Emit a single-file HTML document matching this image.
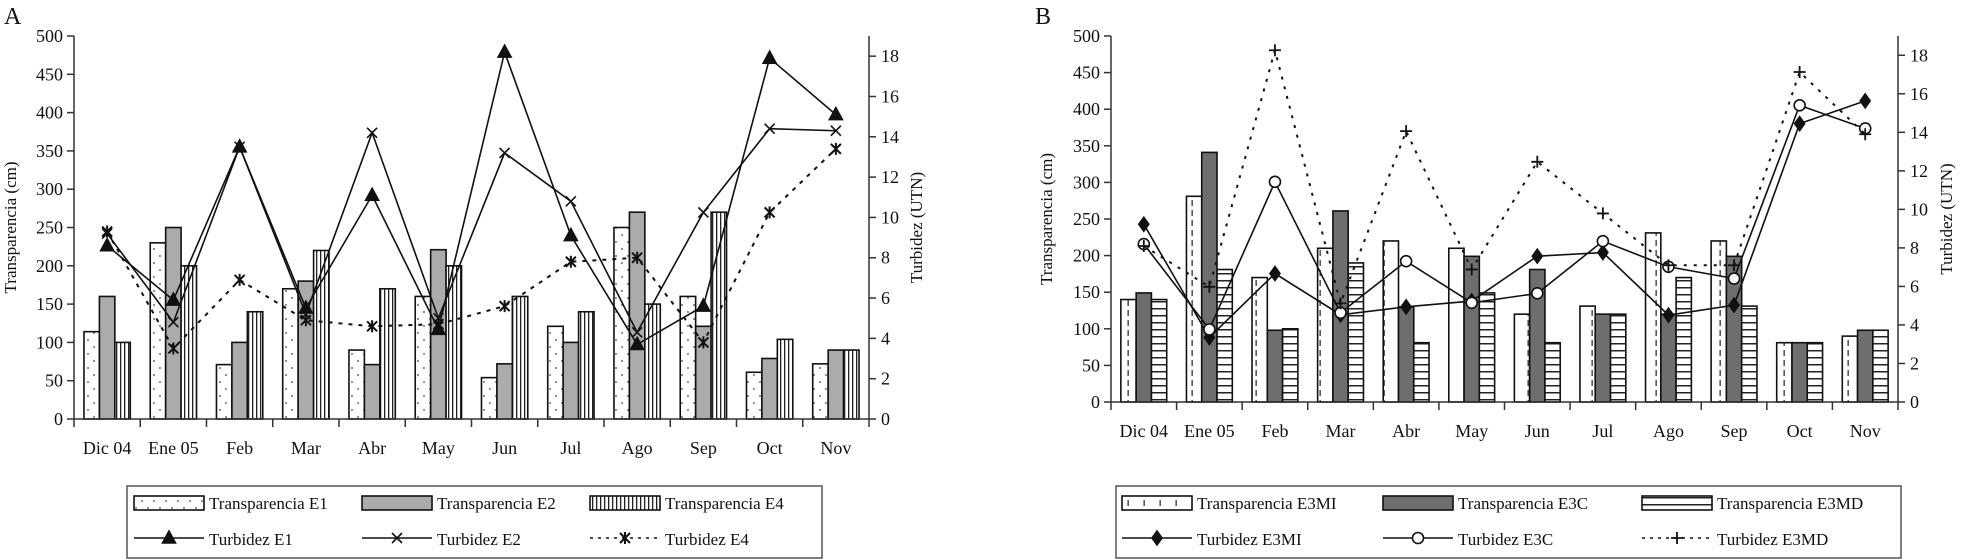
<!DOCTYPE html>
<html><head><meta charset="utf-8"><style>
html,body{margin:0;padding:0;background:#fff}
svg{display:block;font-family:"Liberation Serif",serif}
</style></head><body>
<svg id="chart" width="1968" height="559" viewBox="0 0 1968 559" xmlns="http://www.w3.org/2000/svg">
<defs>
<pattern id="pDots" width="12" height="14" patternUnits="userSpaceOnUse"><rect width="12" height="14" fill="#fff"/><circle cx="4" cy="4" r="0.9" fill="#444"/><circle cx="10" cy="11" r="0.9" fill="#444"/></pattern>
<pattern id="pVert" width="4" height="10" patternUnits="userSpaceOnUse"><rect width="4" height="10" fill="#fff"/><rect x="0" y="0" width="1.3" height="10" fill="#222"/></pattern>
<pattern id="pHor" width="10" height="7" patternUnits="userSpaceOnUse"><rect width="10" height="7" fill="#fff"/><rect x="0" y="0" width="10" height="1.5" fill="#222"/></pattern>
<pattern id="pDash" width="16" height="10" patternUnits="userSpaceOnUse"><rect width="16" height="10" fill="#fff"/><rect x="7.5" y="0" width="1.3" height="6" fill="#333"/></pattern>
</defs>
<g id="panelA"></g>
<g id="panelB"></g>
</svg>
<script>
const months = ["Dic 04","Ene 05","Feb","Mar","Abr","May","Jun","Jul","Ago","Sep","Oct","Nov"];
const leftTicks = [0,50,100,150,200,250,300,350,400,450,500];
const rightTicks = [0,2,4,6,8,10,12,14,16,18];
// Panel A
const transE1 = [114,230,71,170,90,160,54,121,250,160,61,72];
const transE2 = [160,250,100,180,71,221,72,100,270,121,79,90];
const transE4 = [100,200,140,220,170,200,160,140,150,270,104,90];
const turbE1 = [8.6,5.9,13.5,5.5,11.1,4.45,18.2,9.1,3.7,5.6,17.9,15.1];
const turbE2 = [9.2,4.8,13.5,5.2,14.2,5.0,13.2,10.8,4.3,10.25,14.4,14.3];
const turbE4 = [9.3,3.5,6.9,4.9,4.6,4.7,5.6,7.8,8.0,3.8,10.25,13.4];
// Panel B
const transE3MI = [140,281,170,210,220,210,120,131,231,220,81,90];
const transE3C = [149,341,98,261,130,199,181,120,120,199,81,98];
const transE3MD = [140,181,100,190,81,149,81,120,170,131,81,98];
const turbE3MI = [9.23,3.35,6.67,4.53,4.94,5.24,7.57,7.76,4.51,5.03,14.45,15.63];
const turbE3C = [8.2,3.77,11.43,4.63,7.31,5.15,5.64,8.35,7.02,6.41,15.4,14.2];
const turbE3MD = [8.1,5.98,18.26,5.12,14.06,6.88,12.47,9.79,7.1,7.1,17.13,13.9];

const NS="http://www.w3.org/2000/svg";
function mk(tag,attrs,parent){const e=document.createElementNS(NS,tag);for(const k in attrs)e.setAttribute(k,attrs[k]);parent.appendChild(e);return e;}

function drawPanel(g,cfg){
  const {x0,x1,y0,yTop,lmax,rmax}=cfg;
  const cw=(x1-x0)/months.length;
  const yL=v=>y0-(v/lmax)*(y0-yTop);
  const yR=v=>y0-(v/rmax)*(y0-yTop);
  const xc=i=>x0+cw*(i+0.5);
  // letter
  const lt=mk('text',{x:cfg.letterX,y:24,'font-size':24,fill:'#111'},g);lt.textContent=cfg.letter;
  
  
  // bars
  const bw=cw*0.233;
  cfg.bars.forEach((s,si)=>{
    const sg=mk('g',{},g);
    
    
    s.data.forEach((v,i)=>{
      const bx=xc(i)-1.5*bw+si*bw;
      const r=mk('rect',{x:bx,y:yL(v),width:bw,height:y0-yL(v),fill:s.fill,stroke:'#111','stroke-width':1.6},sg);
      
      
    });
  });
  // axes
  const ax=mk('g',{stroke:'#333','stroke-width':1.5,fill:'none'},g);
  
  
  mk('line',{x1:x0,y1:yTop,x2:x0,y2:y0},ax);
  mk('line',{x1:x1,y1:yTop,x2:x1,y2:y0},ax);
  mk('line',{x1:x0,y1:y0,x2:x1,y2:y0},ax);
  for(let i=0;i<=months.length;i++){mk('line',{x1:x0+cw*i,y1:y0,x2:x0+cw*i,y2:y0+8},ax);}
  leftTicks.forEach(t=>{
    mk('line',{x1:x0-7,y1:yL(t),x2:x0,y2:yL(t)},ax);
    const tx=mk('text',{x:x0-11,y:yL(t)+6,'font-size':18,'text-anchor':'end',fill:'#111',stroke:'none'},g);tx.textContent=t;
    
    
  });
  rightTicks.forEach(t=>{
    mk('line',{x1:x1,y1:yR(t),x2:x1+7,y2:yR(t)},ax);
    const tx=mk('text',{x:x1+12,y:yR(t)+6,'font-size':18,fill:'#111'},g);tx.textContent=t;
    
    
  });
  months.forEach((m,i)=>{
    const tx=mk('text',{x:xc(i),y:y0+35,'font-size':18,'text-anchor':'middle',fill:'#111'},g);tx.textContent=m;
    
    
  });
  const lty=(y0+yTop)/2;
  const t1=mk('text',{x:0,y:0,'font-size':17,'text-anchor':'middle',fill:'#111',transform:`translate(${cfg.ltitleX},${lty}) rotate(-90)`},g);t1.textContent='Transparencia (cm)';
  
  
  const t2=mk('text',{x:0,y:0,'font-size':17,'text-anchor':'middle',fill:'#111',transform:`translate(${cfg.rtitleX},${lty}) rotate(-90)`},g);t2.textContent='Turbidez (UTN)';
  
  
  // lines
  cfg.lines.forEach(s=>{
    const sg=mk('g',{},g);
    
    
    const pts=s.data.map((v,i)=>xc(i)+','+yR(v)).join(' ');
    const pl=mk('polyline',{points:pts,fill:'none',stroke:'#111','stroke-width':s.dash?2:1.6,'stroke-dasharray':s.dash||'none'},sg);
    
    
    s.data.forEach((v,i)=>{const m=marker(sg,s.marker,xc(i),yR(v));
      
      });
  });
  // legend
  const L=cfg.legend;
  const lg=mk('g',{},g);
  
  
  mk('rect',{x:L.x,y:486,width:L.w,height:72,fill:'#fff',stroke:'#555','stroke-width':1.5},lg);
  cfg.bars.forEach((s,i)=>{
    const sx=L.cols[i];
    const e=mk('g',{},lg);
    
    
    mk('rect',{x:sx,y:496,width:70,height:14,fill:s.fill,stroke:'#111','stroke-width':1.6},e);
    const tx=mk('text',{x:sx+75,y:509,'font-size':17,fill:'#111'},e);tx.textContent=s.label;
  });
  cfg.lines.forEach((s,i)=>{
    const sx=L.cols[i];
    const e=mk('g',{},lg);
    
    
    mk('line',{x1:sx,y1:538,x2:sx+70,y2:538,stroke:'#111','stroke-width':s.dash?1.6:1.6,'stroke-dasharray':s.dash?'3,5':'none'},e);
    marker(e,s.marker,sx+35,538);
    const tx=mk('text',{x:sx+75,y:545,'font-size':17,fill:'#111'},e);tx.textContent=s.label;
  });
}
function marker(p,type,x,y){
  const g=mk('g',{stroke:'#111','stroke-width':1.6,fill:'none'},p);
  if(type==='tri')mk('path',{d:`M${x},${y-7} L${x+6.5},${y+5} L${x-6.5},${y+5}Z`,fill:'#111'},g);
  else if(type==='x')mk('path',{d:`M${x-5},${y-5} L${x+5},${y+5} M${x-5},${y+5} L${x+5},${y-5}`},g);
  else if(type==='ast')mk('path',{d:`M${x-5},${y-5} L${x+5},${y+5} M${x-5},${y+5} L${x+5},${y-5} M${x},${y-6} L${x},${y+6}`,'stroke-width':2},g);
  else if(type==='dia')mk('path',{d:`M${x},${y-7} L${x+5},${y} L${x},${y+7} L${x-5},${y}Z`,fill:'#111'},g);
  else if(type==='circ')mk('circle',{cx:x,cy:y,r:5.5,fill:'#fff'},g);
  else if(type==='plus')mk('path',{d:`M${x-6},${y} L${x+6},${y} M${x},${y-6} L${x},${y+6}`,'stroke-width':1.8},g);
  return g;
}
drawPanel(document.getElementById('panelA'),{
  letter:'A',letterX:4,x0:74,x1:869,y0:419,yTop:36,lmax:500,rmax:19,ltitleX:16,rtitleX:922,
  bars:[{name:'e1',label:'Transparencia E1',data:transE1,fill:'url(#pDots)'},
        {name:'e2',label:'Transparencia E2',data:transE2,fill:'#ababab'},
        {name:'e4',label:'Transparencia E4',data:transE4,fill:'url(#pVert)'}],
  lines:[{name:'turb-e1',label:'Turbidez E1',data:turbE1,marker:'tri'},
         {name:'turb-e2',label:'Turbidez E2',data:turbE2,marker:'x'},
         {name:'turb-e4',label:'Turbidez E4',data:turbE4,marker:'ast',dash:'4,6'}],
  legend:{x:127,w:695,cols:[134,362,590]}
});
drawPanel(document.getElementById('panelB'),{
  letter:'B',letterX:1035,x0:1111,x1:1898,y0:402,yTop:36,lmax:500,rmax:19,ltitleX:1052,rtitleX:1952,
  bars:[{name:'e3mi',label:'Transparencia E3MI',data:transE3MI,fill:'url(#pDash)'},
        {name:'e3c',label:'Transparencia E3C',data:transE3C,fill:'#6e6e6e'},
        {name:'e3md',label:'Transparencia E3MD',data:transE3MD,fill:'url(#pHor)'}],
  lines:[{name:'turb-e3mi',label:'Turbidez E3MI',data:turbE3MI,marker:'dia'},
         {name:'turb-e3c',label:'Turbidez E3C',data:turbE3C,marker:'circ'},
         {name:'turb-e3md',label:'Turbidez E3MD',data:turbE3MD,marker:'plus',dash:'3,7'}],
  legend:{x:1116,w:785,cols:[1122,1383,1642]}
});
</script>
</body></html>
